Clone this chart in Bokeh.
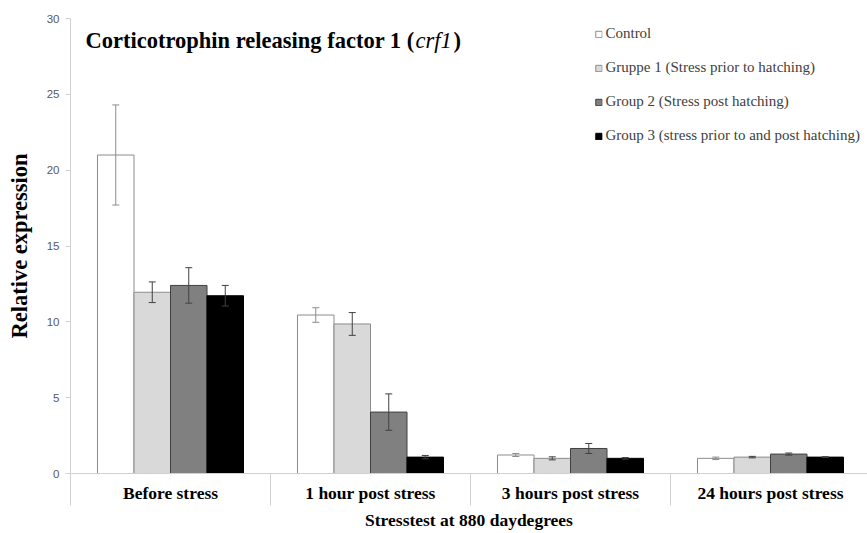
import numpy as np
from bokeh.plotting import figure
from bokeh.models import (Range1d, FixedTicker, Whisker, TeeHead, ColumnDataSource,
                          Legend, LegendItem, Label)
from bokeh.embed import file_html
from bokeh.resources import INLINE

# ---- data ----
categories = ["Before stress", "1 hour post stress", "3 hours post stress", "24 hours post stress"]
series = ["Control", "Gruppe 1 (Stress prior to hatching)", "Group 2 (Stress post hatching)",
          "Group 3 (stress prior to and post hatching)"]
control = [21.0, 10.45, 1.22, 1.0]
control_err = [3.3, 0.48, 0.1, 0.08]
gruppe1 = [11.95, 9.86, 1.0, 1.08]
gruppe1_err = [0.68, 0.75, 0.1, 0.05]
group2 = [12.4, 4.05, 1.65, 1.28]
group2_err = [1.17, 1.2, 0.33, 0.07]
group3 = [11.72, 1.08, 1.0, 1.08]
group3_err = [0.68, 0.11, 0.05, 0.03]
y_ticks = [0, 5, 10, 15, 20, 25, 30]
x_title = "Stresstest at 880 daydegrees"

values = [control, gruppe1, group2, group3]
errors = [control_err, gruppe1_err, group2_err, group3_err]

# ---- styles ----
fills = ["#ffffff", "#d9d9d9", "#808080", "#000000"]
outlines = ["#8c8c8c", "#8c8c8c", "#404040", "#000000"]
err_colors = ["#8c8c8c", "#404040", "#404040", "#404040"]
SERIF = "Liberation Serif"
bar_w = 0.1825

p = figure(width=867, height=533, output_backend="svg", toolbar_location=None,
           x_range=Range1d(0, 3.985), y_range=Range1d(0, 30),
           min_border_left=70, min_border_right=0, min_border_top=18, min_border_bottom=60)
p.outline_line_color = None
p.xgrid.visible = False
p.ygrid.visible = False
p.background_fill_color = "white"
p.border_fill_color = "white"

renderers = []
centers = np.arange(len(categories)) + 0.5
for k, (vals, errs) in enumerate(zip(values, errors)):
    xs = centers + (k - 1.5) * bar_w
    src = ColumnDataSource(dict(x=xs, top=vals,
                                upper=np.array(vals) + np.array(errs),
                                lower=np.array(vals) - np.array(errs)))
    r = p.vbar(x="x", top="top", bottom=0, width=bar_w, source=src,
               fill_color=fills[k], line_color=outlines[k], line_width=1)
    renderers.append(r)
    w = Whisker(base="x", upper="upper", lower="lower", source=src, dimension="height",
                line_color=err_colors[k], line_width=1, level="annotation",
                upper_head=TeeHead(size=7, line_color=err_colors[k], line_width=1),
                lower_head=TeeHead(size=7, line_color=err_colors[k], line_width=1))
    p.add_layout(w)

# ---- y axis ----
yax = p.yaxis[0]
yax.ticker = FixedTicker(ticks=y_ticks)
yax.axis_line_color = "#d0d0d0"
yax.major_tick_line_color = "#d0d0d0"
yax.major_tick_out = 5
yax.major_tick_in = 0
yax.minor_tick_line_color = None
yax.major_label_text_font = "Liberation Sans"
yax.major_label_text_font_size = "11.5px"
yax.major_label_text_color = "#595959"
yax.major_label_standoff = 6
yax.axis_label = "Relative expression"
yax.axis_label_text_font = SERIF
yax.axis_label_text_font_style = "bold"
yax.axis_label_text_font_size = "22.5px"
yax.axis_label_text_color = "#000000"
yax.axis_label_standoff = 12

# ---- x axis ----
xax = p.xaxis[0]
xax.ticker = FixedTicker(ticks=list(centers), minor_ticks=[0, 1, 2, 3])
xax.major_label_overrides = {float(c): cat for c, cat in zip(centers, categories)}
xax.axis_line_color = "#d0d0d0"
xax.major_tick_line_color = None
xax.major_tick_out = 0
xax.major_tick_in = 0
xax.minor_tick_line_color = "#d0d0d0"
xax.minor_tick_out = 32
xax.minor_tick_in = 0
xax.major_label_text_font = SERIF
xax.major_label_text_font_style = "bold"
xax.major_label_text_font_size = "17.5px"
xax.major_label_text_color = "#000000"
xax.major_label_standoff = -23
xax.axis_label = x_title
xax.axis_label_text_font = SERIF
xax.axis_label_text_font_style = "bold"
xax.axis_label_text_font_size = "17.5px"
xax.axis_label_text_color = "#000000"
xax.axis_label_standoff = 4

# ---- title (three parts, data coordinates) ----
title_parts = [("Corticotrophin releasing factor 1 (", "bold", 0.075),
               ("crf1", "italic", 1.725),
               (")", "bold", 1.915)]
for txt, style, xpos in title_parts:
    p.add_layout(Label(x=xpos, y=28.55, text=txt, text_font=SERIF, text_font_style=style,
                       text_font_size="22.5px", text_color="#000000",
                       text_baseline="alphabetic", text_align="left"))

# ---- legend ----
legend = Legend(items=[LegendItem(label=s, renderers=[r]) for s, r in zip(series, renderers)],
                location="top_right", orientation="vertical",
                border_line_color=None, background_fill_alpha=0,
                label_text_font=SERIF, label_text_font_size="15px", label_text_color="#404040",
                glyph_width=8, glyph_height=8, label_standoff=3,
                label_height=17, spacing=17, padding=9, margin=7)
p.add_layout(legend)

open("out.html", "w").write(file_html(p, INLINE))
